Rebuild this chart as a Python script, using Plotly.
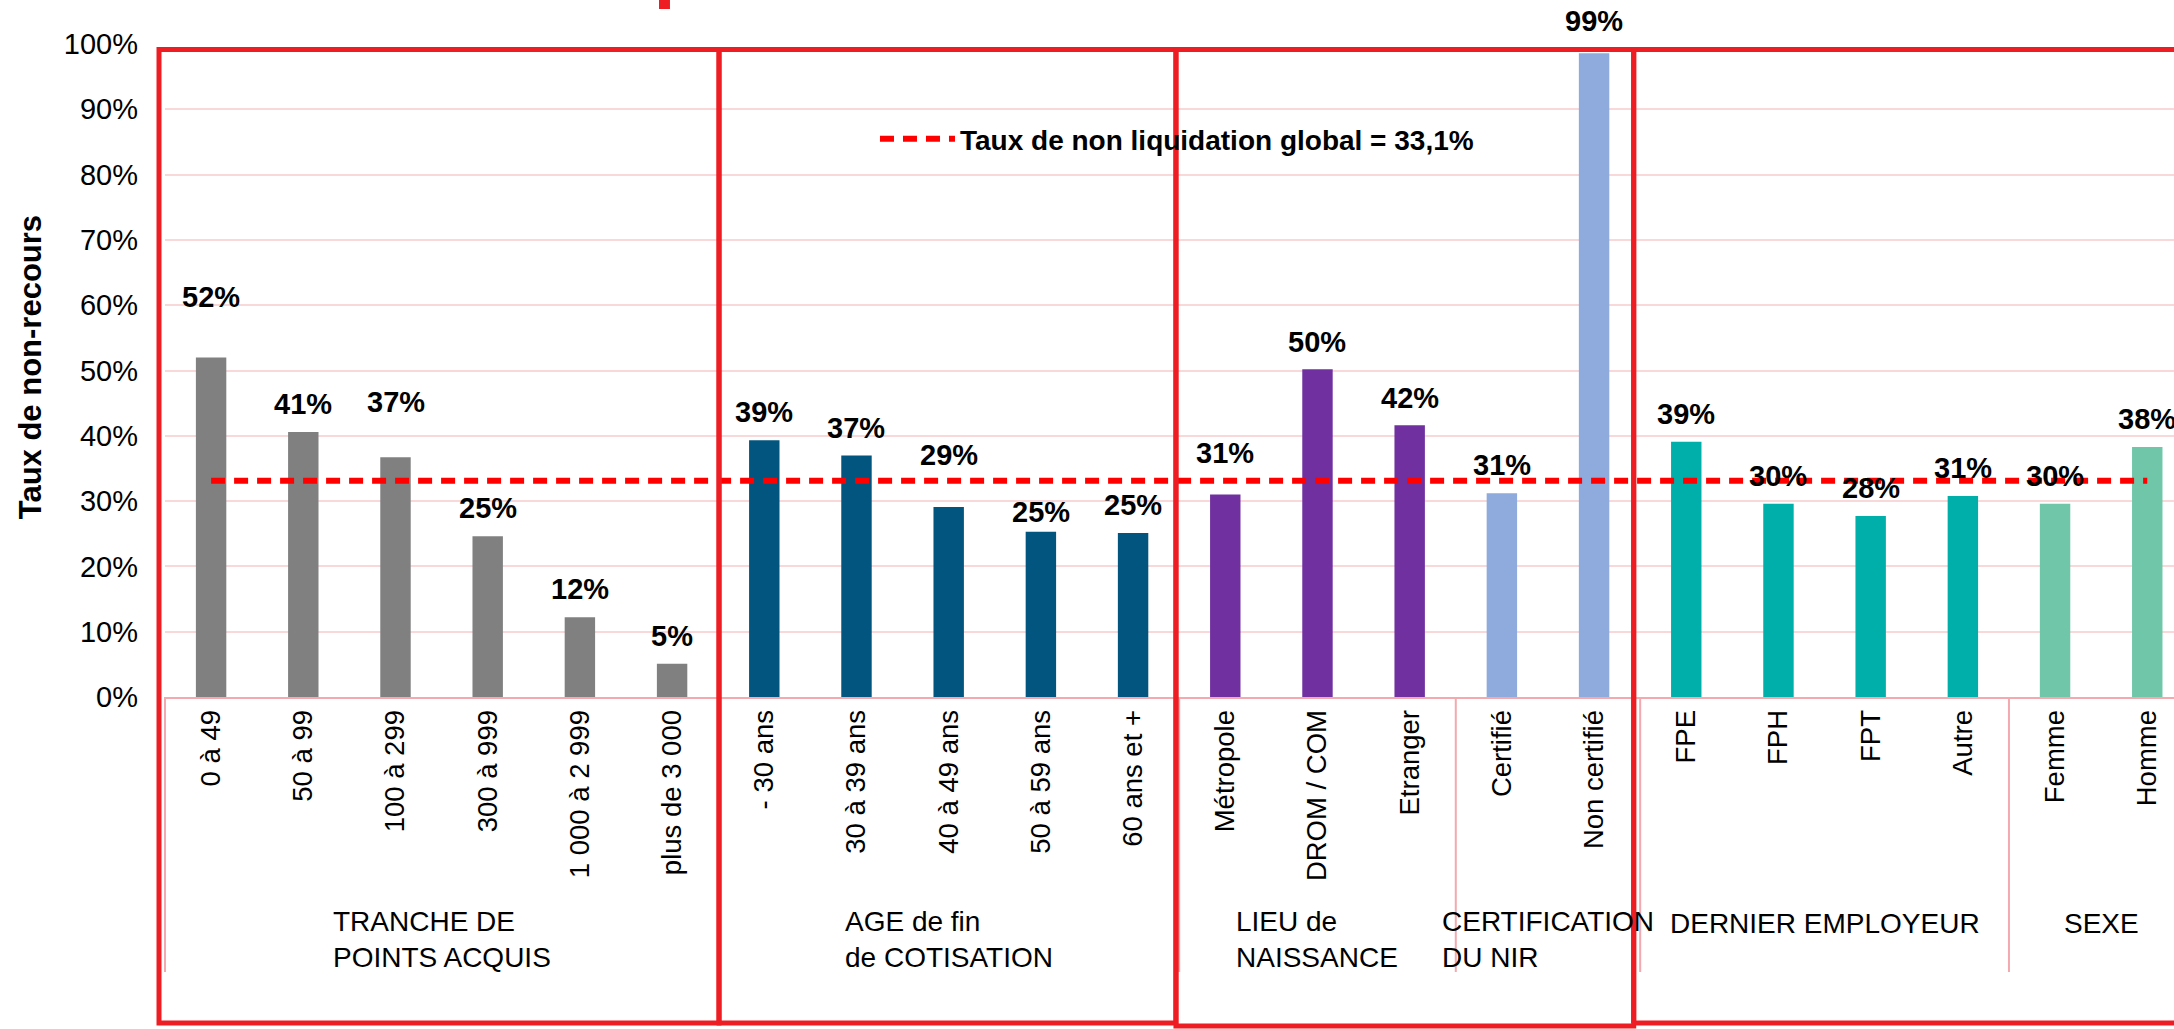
import plotly.graph_objects as go

# ---------------- data ----------------
categories = ["0 à 49", "50 à 99", "100 à 299", "300 à 999", "1 000 à 2 999", "plus de 3 000",
              "- 30 ans", "30 à 39 ans", "40 à 49 ans", "50 à 59 ans", "60 ans et +",
              "Métropole", "DROM / COM", "Etranger",
              "Certifié", "Non certifié",
              "FPE", "FPH", "FPT", "Autre",
              "Femme", "Homme"]
values = [52.0, 40.6, 36.7, 24.6, 12.2, 5.1,
          39.3, 37.0, 29.1, 25.3, 25.1,
          31.0, 50.2, 41.6,
          31.2, 98.6,
          39.1, 29.6, 27.7, 30.8,
          29.6, 38.3]
group_names = ["TRANCHE DE<br>POINTS ACQUIS", "AGE de fin<br>de COTISATION", "LIEU de<br>NAISSANCE",
               "CERTIFICATION<br>DU NIR", "DERNIER EMPLOYEUR", "SEXE"]
group_sizes = [6, 5, 3, 2, 4, 2]
global_rate = 33.1
y_ticks = [0, 10, 20, 30, 40, 50, 60, 70, 80, 90, 100]

# ---------------- styles / label placement ----------------
group_colors = ["#808080", "#02557E", "#7030A0", "#8FAADC", "#00AFAA", "#70C6A8"]
label_shift_px = [60, 28, 55, 28, 28, 28,
                  28, 27, 52, 20, 28,
                  42, 27, 27,
                  28, 32,
                  28, 28, 28, 28,
                  28, 28]
FONT = "Liberation Sans, Arial, sans-serif"
BOX_RED = "#EE1D23"
GRID_PINK = "#F9D8DA"
AXIS_PINK = "#F3A9AE"

W, H = 2174, 1029
ML, MT, MB = 165, 44, 332
x_range = [-0.5, 21.29]

bar_colors = []
for c, n in zip(group_colors, group_sizes):
    bar_colors += [c] * n

def px_x(x):
    return (x - x_range[0]) / (x_range[1] - x_range[0])

def py_pix(ypix):
    # pixel row -> paper y
    return (H - MB - ypix) / (H - MB - MT)

fig = go.Figure()
fig.add_trace(go.Bar(x=categories, y=values, marker=dict(color=bar_colors, line=dict(width=0)),
                     width=0.33, showlegend=False, hoverinfo="x+y"))

legend_text = "Taux de non liquidation global = " + f"{global_rate:.1f}".replace(".", ",") + "%"
fig.add_trace(go.Scatter(x=[categories[0], categories[-1]], y=[global_rate, global_rate],
                         mode="lines", name=legend_text,
                         line=dict(color="#FF0000", width=6, dash="14px,9px")))

annotations = []
# data labels
for cat, v, s in zip(categories, values, label_shift_px):
    annotations.append(dict(x=cat, y=v, xref="x", yref="y", text=f"{round(v)}%", showarrow=False,
                            yanchor="middle", yshift=s,
                            font=dict(family=FONT, size=29, color="black", weight="bold")))
# group labels
start = 0
bounds = [-0.5]
for name, n in zip(group_names, group_sizes):
    center = start + (n - 1) / 2
    two = "<br>" in name
    annotations.append(dict(x=px_x(center), y=py_pix(939 if two else 923), xref="paper", yref="paper",
                            text=name, showarrow=False, align="left", xanchor="center", yanchor="middle",
                            font=dict(family=FONT, size=28, color="black")))
    start += n
    bounds.append(start - 0.5)
# y axis title
annotations.append(dict(x=-0.0672, y=0.505, xref="paper", yref="paper", text="Taux de non-recours",
                        textangle=-90, showarrow=False, xanchor="center", yanchor="middle",
                        font=dict(family=FONT, size=31, color="black", weight="bold")))

shapes = []
# category area separators
for b in bounds:
    shapes.append(dict(type="line", xref="paper", yref="paper", x0=px_x(b), x1=px_x(b),
                       y0=0, y1=py_pix(972), line=dict(color=AXIS_PINK, width=2)))
# red frames
frames = [(-0.565, 5.509, 1023), (5.509, 10.465, 1023), (10.465, 15.43, 1026)]
for x0, x1, yb in frames:
    shapes.append(dict(type="rect", xref="paper", yref="paper", x0=px_x(x0), x1=px_x(x1),
                       y0=py_pix(yb), y1=py_pix(49.5), line=dict(color=BOX_RED, width=5),
                       fillcolor="rgba(0,0,0,0)"))
# last frame is open on the right (runs past the picture edge)
for x0, x1, y0, y1 in [(15.43, 21.4, 49.5, 49.5), (15.43, 21.4, 1023, 1023), (15.43, 15.43, 49.5, 1023)]:
    shapes.append(dict(type="line", xref="paper", yref="paper", x0=px_x(x0), x1=px_x(x1),
                       y0=py_pix(y0), y1=py_pix(y1), line=dict(color=BOX_RED, width=5)))
shapes.append(dict(type="rect", xref="paper", yref="paper", x0=px_x(4.858), x1=px_x(4.977),
                   y0=py_pix(9), y1=py_pix(-2), line=dict(width=0), fillcolor=BOX_RED))

fig.update_layout(
    width=W, height=H,
    margin=dict(l=ML, r=0, t=MT, b=MB, autoexpand=False),
    paper_bgcolor="white", plot_bgcolor="white",
    font=dict(family=FONT, color="black"),
    bargap=0.67,
    xaxis=dict(type="category", range=x_range, tickangle=-90, showgrid=False, ticks="",
               showline=True, linecolor=AXIS_PINK, linewidth=2, ticklabelstandoff=0,
               tickfont=dict(family=FONT, size=27.5, color="black")),
    yaxis=dict(range=[0, 100], tickvals=y_ticks, ticktext=[f"{t}%" for t in y_ticks],
               showgrid=True, gridcolor=GRID_PINK, gridwidth=2, zeroline=False, showline=False,
               ticklabelstandoff=26, tickfont=dict(family=FONT, size=29, color="black")),
    legend=dict(x=0.3534, y=py_pix(139), xanchor="left", yanchor="middle", bgcolor="rgba(0,0,0,0)",
                itemwidth=75, font=dict(family=FONT, size=28, color="black", weight="bold")),
    annotations=annotations,
    shapes=shapes,
)

fig.write_html("out.html", config={"displayModeBar": False},
               post_script="document.body.style.margin='0';document.body.style.overflow='hidden';")
